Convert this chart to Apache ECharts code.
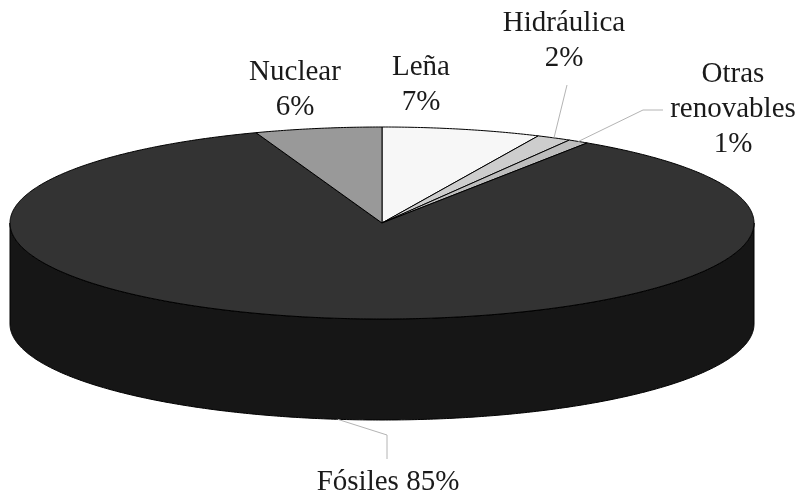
<!DOCTYPE html>
<html>
<head>
<meta charset="utf-8">
<script src="https://cdn.jsdelivr.net/npm/echarts@6/dist/echarts.min.js"></script>
<style>html,body{margin:0;padding:0;background:#fff}#c{width:800px;height:495px}</style>
</head>
<body>
<div id="c"></div>
<script>
// ---- data ----
const categories = ['Leña', 'Hidráulica', 'Otras renovables', 'Fósiles', 'Nuclear'];
const values = [6.9, 1.5, 0.9, 85.2, 5.5];
const labelNames = ['Leña', 'Hidráulica', 'Otras\nrenovables', 'Fósiles', 'Nuclear'];
const labelSeparators = ['\n', '\n', '\n', ' ', '\n'];

// ---- layout / style ----
const CX = 382, CY = 223, RX = 372, RY = 96, DEPTH = 101;
const topColors = ['#f7f7f7', '#cdcdcd', '#bdbdbd', '#333333', '#999999'];
const sideColors = ['#d0d0d0', '#a0a0a0', '#909090', '#161616', '#6a6a6a'];
const labelPos = [[421, 50], [564, 6], [733, 57], [388, 465], [295, 55]];
// leader line bend points (null = no leader); start is computed from slice mid-angle
const leaderBends = [null, [[567, 85]], [[643, 110], [663, 110]], [[387, 435], [387, 459]], null];
const leaderOnBottom = [false, false, false, true, false];

const total = values.reduce((s, v) => s + v, 0);
function pt(deg, dy) {
  const r = deg * Math.PI / 180;
  return [CX + RX * Math.sin(r), CY - RY * Math.cos(r) + (dy || 0)];
}
function arc(a, b, dy) {
  const pts = [];
  const n = Math.max(2, Math.ceil(Math.abs(b - a) / 0.5));
  for (let k = 0; k <= n; k++) pts.push(pt(a + (b - a) * k / n, dy));
  return pts;
}

function renderItem(params, api) {
  const i = params.dataIndex;
  let start = 0;
  for (let k = 0; k < i; k++) start += values[k];
  const a = start / total * 360;
  const b = (start + values[i]) / total * 360;
  const children = [];
  // side face (visible front half only)
  const lo = Math.max(a, 90), hi = Math.min(b, 270);
  if (lo < hi) {
    const pts = arc(lo, hi, 0).concat(arc(hi, lo, DEPTH));
    children.push({
      type: 'polygon', z2: 1,
      shape: { points: pts },
      style: { fill: sideColors[i], stroke: '#000', lineWidth: 1 }
    });
  }
  // top face
  const topPts = [[CX, CY]].concat(arc(a, b, 0));
  children.push({
    type: 'polygon', z2: 5,
    shape: { points: topPts },
    style: { fill: topColors[i], stroke: '#000', lineWidth: 1, lineJoin: 'round' }
  });
  // leader line
  if (leaderBends[i]) {
    const mid = (a + b) / 2;
    const s = pt(mid, leaderOnBottom[i] ? DEPTH : 0);
    children.push({
      type: 'polyline', z2: 8,
      shape: { points: [s].concat(leaderBends[i]) },
      style: { stroke: '#b4b4b4', lineWidth: 1, fill: null }
    });
  }
  // label
  const pct = Math.round(values[i] / total * 100) + '%';
  children.push({
    type: 'text', z2: 10,
    x: labelPos[i][0], y: labelPos[i][1],
    style: {
      text: labelNames[i] + labelSeparators[i] + pct,
      fill: '#1a1a1a',
      fontFamily: 'Liberation Serif',
      fontSize: 29,
      align: 'center', verticalAlign: 'top', lineHeight: 35
    }
  });
  return { type: 'group', children: children };
}

const chart = echarts.init(document.getElementById('c'), null, { renderer: 'canvas' });
chart.setOption({
  animation: false,
  backgroundColor: '#ffffff',
  series: [{
    type: 'custom',
    coordinateSystem: 'none',
    renderItem: renderItem,
    data: values.map((v, i) => ({ name: categories[i], value: v }))
  }]
});
</script>
</body>
</html>
